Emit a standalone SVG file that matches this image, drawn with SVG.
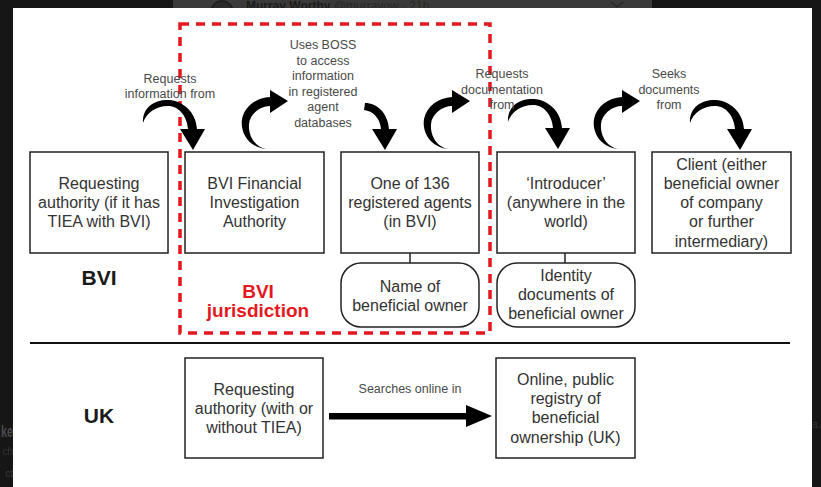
<svg xmlns="http://www.w3.org/2000/svg" width="821" height="487" viewBox="0 0 821 487">
<defs>
<style>
.box{fill:#fff;stroke:#222;stroke-width:1.5}
.t{font-family:"Liberation Sans",Arial,sans-serif;font-size:16px;fill:#333;text-anchor:middle}
.l{font-family:"Liberation Sans",Arial,sans-serif;font-size:12.5px;fill:#4a4a4a;text-anchor:middle}
.h{font-family:"Liberation Sans",Arial,sans-serif;font-weight:bold;fill:#1a1a1a;text-anchor:middle}
.arw{fill:#000}
.ln{stroke:#222;stroke-width:1.5;fill:none}
</style>
<path id="cw" d="M -50,-27 C -51,-45 -35,-51 -24,-50 C -10,-49 3,-38 4,-21 L 12,-21 L 0,0 L -13,-21 L -5,-21 C -6,-34 -14,-44 -25,-44 C -37,-44 -47,-37 -50,-27 Z"/>
<path id="ccw" d="M -22,47 C -40,45 -48,30 -46,17 C -43,4 -32,-4 -18,-5 L -18,-12 L 0,-1 L -18,11 L -18,4 C -28,4 -38,12 -39,22 C -40,35 -32,45 -22,47 Z"/>
</defs>

<g id="background">
<rect x="0" y="0" width="821" height="487" fill="#161616"/>
<rect x="173" y="0" width="479" height="10" fill="#3a3a3a"/>
<circle cx="222" cy="12" r="11" fill="#2a2a2a" stroke="#1c1c1c" stroke-width="1.5"/>
<text x="246" y="9.5" font-family="Liberation Sans, Arial, sans-serif" font-size="12" font-weight="bold" fill="#1c1c1c">Murray Worthy <tspan font-weight="normal" fill="#262626">@murravow · 21h</tspan></text>
<path d="M611,2 L617,7 L623,2" fill="none" stroke="#262626" stroke-width="1.2"/>
<text x="1" y="437" font-family="Liberation Sans, Arial, sans-serif" font-size="16" font-weight="bold" fill="#4a4a4a" textLength="12" lengthAdjust="spacingAndGlyphs">ke</text>
<text x="13" y="455" font-family="Liberation Sans, Arial, sans-serif" font-size="10" fill="#333" text-anchor="end">ch</text>
<text x="13" y="477" font-family="Liberation Sans, Arial, sans-serif" font-size="10" fill="#3a3a3a" text-anchor="end">ct</text>
<text x="812" y="428" font-family="Liberation Sans, Arial, sans-serif" font-size="10" fill="#333">a.</text>
<rect x="13" y="8" width="799" height="479" fill="#fff"/>
</g>

<g id="jurisdiction">
<rect x="180" y="24" width="310" height="309" fill="none" stroke="#e3191f" stroke-width="3.5" stroke-dasharray="9 7"/>
<text x="258" y="298" font-family="Liberation Sans, Arial, sans-serif" font-size="19" font-weight="bold" fill="#e3191f" text-anchor="middle">BVI</text>
<text x="258" y="317" font-family="Liberation Sans, Arial, sans-serif" font-size="19" font-weight="bold" fill="#e3191f" text-anchor="middle">jurisdiction</text>
</g>

<g id="regions">
<text class="h" x="99" y="285" font-size="21">BVI</text>
<text class="h" x="99" y="423" font-size="21">UK</text>
<line x1="30" y1="343" x2="790" y2="343" stroke="#111" stroke-width="2"/>
</g>

<g id="connectors">
<use href="#cw" class="arw" transform="translate(193,150)"/>
<use href="#ccw" class="arw" transform="translate(288,102)"/>
<path class="arw" transform="translate(385,150)" d="M -21,-40 C -12,-39 -5,-32 -4,-21 L -13,-21 L 0,0 L 12,-21 L 4,-21 C 3,-37 -8,-47 -20,-47 Z"/>
<use href="#ccw" class="arw" transform="translate(470,102)"/>
<use href="#cw" class="arw" transform="translate(558,149)"/>
<use href="#ccw" class="arw" transform="translate(640,102)"/>
<use href="#cw" class="arw" transform="translate(740,150)"/>
<line class="ln" x1="410" y1="253" x2="410" y2="263"/>
<line class="ln" x1="565" y1="253" x2="565" y2="263"/>
<rect x="329" y="413" width="138" height="6.5" fill="#000"/>
<polygon points="466,405 492,416 466,427" fill="#000"/>
<text class="l" x="170" y="83">Requests</text>
<text class="l" x="170" y="98">information from</text>
<text class="l" x="323" y="49">Uses BOSS</text>
<text class="l" x="323" y="64.5">to access</text>
<text class="l" x="323" y="80">information</text>
<text class="l" x="323" y="95.5">in registered</text>
<text class="l" x="323" y="111">agent</text>
<text class="l" x="323" y="126.5">databases</text>
<text class="l" x="502" y="78">Requests</text>
<text class="l" x="502" y="94">documentation</text>
<text class="l" x="502" y="109">from</text>
<text class="l" x="669" y="78">Seeks</text>
<text class="l" x="669" y="94">documents</text>
<text class="l" x="669" y="109">from</text>
<text class="l" x="410" y="393">Searches online in</text>
</g>

<g id="node-requesting-bvi">
<rect class="box" x="30" y="152" width="138" height="101"/>
<text class="t" x="99" y="189">Requesting</text>
<text class="t" x="99" y="208">authority (if it has</text>
<text class="t" x="99" y="227">TIEA with BVI)</text>
</g>

<g id="node-fia">
<rect class="box" x="185" y="152" width="139" height="101"/>
<text class="t" x="254.5" y="189">BVI Financial</text>
<text class="t" x="254.5" y="208">Investigation</text>
<text class="t" x="254.5" y="227">Authority</text>
</g>

<g id="node-agents">
<rect class="box" x="341" y="152" width="138" height="101"/>
<text class="t" x="410" y="189">One of 136</text>
<text class="t" x="410" y="208">registered agents</text>
<text class="t" x="410" y="227">(in BVI)</text>
</g>

<g id="node-introducer">
<rect class="box" x="497" y="152" width="138" height="101"/>
<text class="t" x="566" y="189">‘Introducer’</text>
<text class="t" x="566" y="208">(anywhere in the</text>
<text class="t" x="566" y="227">world)</text>
</g>

<g id="node-client">
<rect class="box" x="652" y="152" width="139" height="101"/>
<text class="t" x="721.5" y="170">Client (either</text>
<text class="t" x="721.5" y="189">beneficial owner</text>
<text class="t" x="721.5" y="208">of company</text>
<text class="t" x="721.5" y="227">or further</text>
<text class="t" x="721.5" y="247">intermediary)</text>
</g>

<g id="node-name">
<rect class="box" x="341" y="263" width="138" height="64" rx="20" ry="20"/>
<text class="t" x="410" y="292">Name of</text>
<text class="t" x="410" y="311">beneficial owner</text>
</g>

<g id="node-identity">
<rect class="box" x="497" y="263" width="138" height="64" rx="20" ry="20"/>
<text class="t" x="566" y="281">Identity</text>
<text class="t" x="566" y="300">documents of</text>
<text class="t" x="566" y="319">beneficial owner</text>
</g>

<g id="node-requesting-uk">
<rect class="box" x="185" y="358" width="138" height="100"/>
<text class="t" x="254" y="395">Requesting</text>
<text class="t" x="254" y="414">authority (with or</text>
<text class="t" x="254" y="433">without TIEA)</text>
</g>

<g id="node-registry">
<rect class="box" x="496" y="358" width="139" height="100"/>
<text class="t" x="565.5" y="385">Online, public</text>
<text class="t" x="565.5" y="404">registry of</text>
<text class="t" x="565.5" y="423">beneficial</text>
<text class="t" x="565.5" y="443">ownership (UK)</text>
</g>
</svg>
